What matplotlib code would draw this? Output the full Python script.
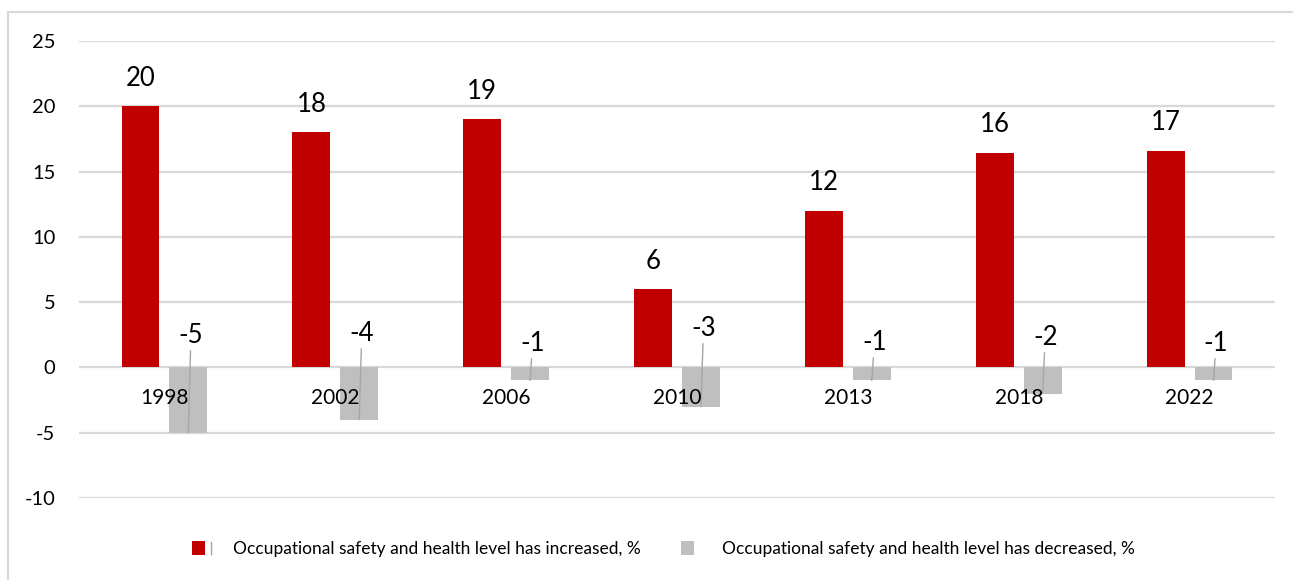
import numpy as np
import matplotlib.pyplot as plt
from matplotlib.patches import Patch, Rectangle
from matplotlib.lines import Line2D
from matplotlib.legend_handler import HandlerBase

plt.rcParams['font.family'] = ['Lato', 'DejaVu Sans']
plt.rcParams['axes.unicode_minus'] = False

# survey years and shares of answers, %
years = ['1998', '2002', '2006', '2010', '2013', '2018', '2022']
increased = [20, 18, 19, 6, 12, 16.45, 16.6]
decreased = [-5, -4, -1, -3, -1, -2, -1]
series_names = ['Occupational safety and health level has increased, %',
                'Occupational safety and health level has decreased, %']

# heights where the labels of the negative bars sit (with leader lines)
dec_label_y = [2.45, 2.6, 1.85, 3.0, 1.9, 2.3, 1.85]

RED = '#c00000'
GREY = '#bfbfbf'
GRID = '#d9d9d9'
LEADER = '#a6a6a6'


class SquareHandler(HandlerBase):
    """Square legend key, optionally with a small leader-line tick next to it."""
    def __init__(self, tick=False):
        super().__init__()
        self.tick = tick

    def create_artists(self, legend, orig_handle, xdescent, ydescent,
                       width, height, fontsize, trans):
        sq = Rectangle((-xdescent, -ydescent), height, height,
                       facecolor=orig_handle.get_facecolor(), edgecolor='none',
                       transform=trans)
        artists = [sq]
        if self.tick:
            tx = -xdescent + height * 1.45
            ln = Line2D([tx, tx], [-ydescent + height * 0.05, -ydescent + height * 0.95],
                        color=LEADER, lw=1, transform=trans)
            artists.append(ln)
        return artists


fig = plt.figure(figsize=(12.93, 5.8), dpi=100)
ax = fig.add_axes([79 / 1293, 1 - 498 / 580, 1196 / 1293, (498 - 41) / 580])

x = np.arange(len(years))
w = 0.222
off = 0.14
ax.bar(x - off, increased, w, color=RED, zorder=3)
ax.bar(x + off, decreased, w, color=GREY, zorder=3)

ax.set_xlim(-0.5, len(years) - 0.5)
ax.set_ylim(-10, 25)
ax.set_yticks(range(-10, 30, 5))
ax.set_xticks([])
ax.yaxis.grid(True, color=GRID, lw=1.6)
ax.set_axisbelow(True)
for s in ax.spines.values():
    s.set_visible(False)
ax.tick_params(axis='y', length=0, pad=17, labelsize=14.5, labelcolor='#000000')

# value labels on the red bars
for xi, v in zip(x, increased):
    ax.annotate(f'{v:.0f}', (xi - off, v), xytext=(0, 20), textcoords='offset points',
                ha='center', va='center', fontsize=18.5, zorder=5)

# value labels for the grey bars, lifted above zero with leader lines
for xi, v, ly in zip(x, decreased, dec_label_y):
    ax.annotate(f'{v:.0f}', xy=(xi + off, v), xytext=(xi + off + 0.015, ly),
                ha='center', va='center', fontsize=18.5, zorder=4,
                arrowprops=dict(arrowstyle='-', color=LEADER, lw=1,
                                shrinkA=0, shrinkB=0))

# category names sit just under the zero line, over the bars
for xi, yr in zip(x, years):
    ax.annotate(yr, (xi, 0), xytext=(0, -22), textcoords='offset points',
                ha='center', va='center', fontsize=15, zorder=5)

# light frame around the chart
fig.add_artist(Rectangle((8 / 1293, -0.05), 1.0, 1.05 - 12 / 580, fill=False,
                         edgecolor=GRID, lw=1.5, transform=fig.transFigure))

h_inc = Patch(facecolor=RED)
h_dec = Patch(facecolor=GREY)
fig.legend([h_inc, h_dec], series_names, loc='center left',
           bbox_to_anchor=(192 / 1293, 1 - 549 / 580), ncol=2, frameon=False,
           fontsize=12.5, handlelength=1.27, handleheight=0.805,
           handletextpad=1.09, columnspacing=2.3, borderpad=0, borderaxespad=0,
           handler_map={h_inc: SquareHandler(tick=True), h_dec: SquareHandler()})

fig.savefig('out.png', dpi=100)
